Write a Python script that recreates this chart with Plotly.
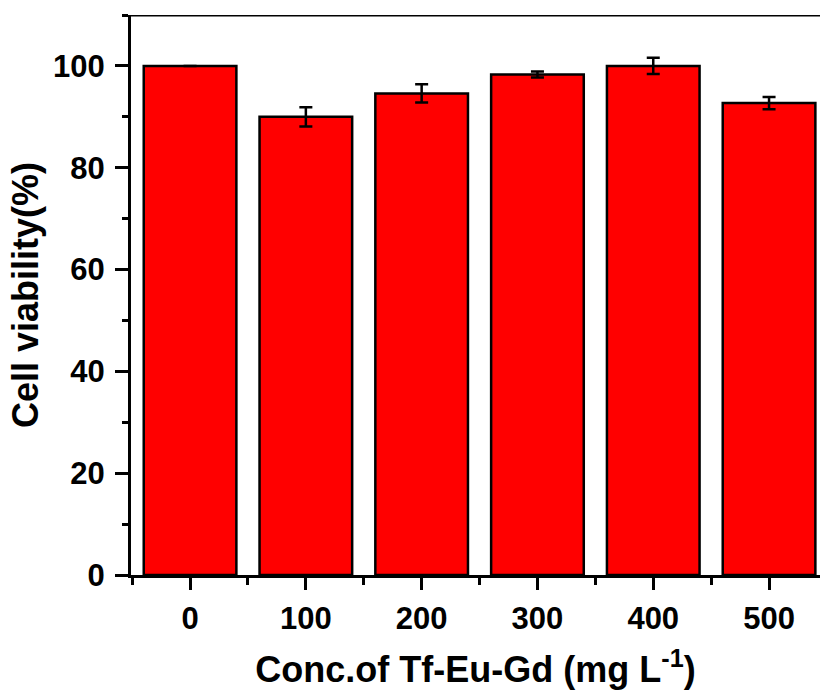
import plotly.graph_objects as go

categories = ["0", "100", "200", "300", "400", "500"]
viability = [100.0, 90.0, 94.6, 98.3, 100.0, 92.7]
errors = [None, 1.9, 1.8, 0.6, 1.6, 1.2]

xpos = list(range(len(categories)))

FONT = "Liberation Sans, Arial, sans-serif"

fig = go.Figure()
fig.add_trace(go.Bar(
    x=xpos, y=viability, width=0.8,
    marker=dict(color="#ff0000", line=dict(color="black", width=2.5)),
    error_y=dict(type="data", array=errors, visible=True, color="black",
                 thickness=2.5, width=6.5),
))

fig.update_layout(
    width=820, height=691,
    margin=dict(l=131, r=0, t=15, b=116),
    paper_bgcolor="white", plot_bgcolor="white",
    showlegend=False,
    font=dict(family=FONT, color="black"),
    shapes=[dict(type="line", xref="paper", yref="y", x0=0, x1=1.02,
                 y0=110, y1=110, line=dict(color="black", width=3),
                 layer="above")],
)

fig.update_xaxes(
    range=[-0.51, 5.44],
    tickmode="array", tickvals=xpos, ticktext=["<b>%s</b>" % c for c in categories],
    tickfont=dict(size=31, family=FONT),
    ticks="outside", ticklen=12, tickwidth=3, tickcolor="black",
    ticklabelstandoff=2,
    minor=dict(tickmode="linear", tick0=0.5, dtick=1, ticks="outside",
               ticklen=7, tickwidth=3, tickcolor="black"),
    showline=True, linewidth=3, linecolor="black", mirror=False,
    showgrid=False, zeroline=False,
    title=dict(text="<b>Conc.of Tf-Eu-Gd (mg L<sup>-1</sup>)</b>",
               font=dict(size=36, family=FONT), standoff=22),
    automargin=False,
)

fig.update_yaxes(
    range=[0, 110],
    tickmode="linear", tick0=0, dtick=20,
    tickfont=dict(size=31, family=FONT),
    tickprefix="<b>", ticksuffix="</b>",
    ticks="outside", ticklen=13, tickwidth=3, tickcolor="black",
    ticklabelstandoff=4,
    minor=dict(tickmode="linear", tick0=10, dtick=20, ticks="outside",
               ticklen=6, tickwidth=3, tickcolor="black"),
    showline=True, linewidth=3, linecolor="black", mirror=False,
    showgrid=False, zeroline=False,
    title=dict(text="<b>Cell viability(%)</b>",
               font=dict(size=36, family=FONT), standoff=4),
    automargin=False,
)

fig.write_html("out.html")
